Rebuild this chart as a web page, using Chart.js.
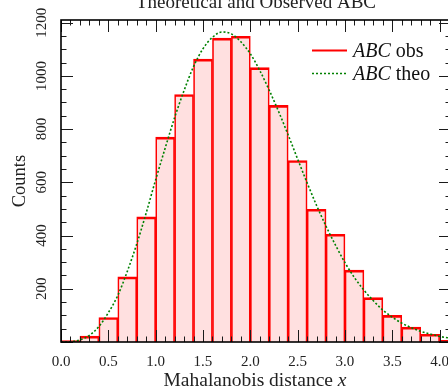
<!DOCTYPE html>
<html>
<head>
<meta charset="utf-8">
<script src="https://cdn.jsdelivr.net/npm/chart.js@4"></script>
<style>
  html, body { margin: 0; padding: 0; background: #fff; overflow: hidden; }
  #wrap { width: 470px; height: 389px; }
</style>
</head>
<body>
<div id="wrap"><canvas id="abc" width="470" height="389"></canvas></div>
<script>
// histogram bins (edges) and observed counts per bin
var binEdges = [0.0, 0.2, 0.4, 0.6, 0.8, 1.0, 1.2, 1.4, 1.6, 1.8, 2.0,
                2.2, 2.4, 2.6, 2.8, 3.0, 3.2, 3.4, 3.6, 3.8, 4.0, 4.2];
var obsCounts = [5, 22, 92, 245, 470, 770, 930, 1063, 1142, 1149, 1031,
                 889, 682, 499, 405, 270, 167, 100, 56, 29, 6];

// theoretical curve, expected counts per bin
var theoX = [0.0, 0.1, 0.2, 0.3, 0.4, 0.5, 0.6, 0.7, 0.8, 0.9, 1.0,
             1.1, 1.2, 1.3, 1.4, 1.5, 1.6, 1.7, 1.8, 1.9, 2.0,
             2.1, 2.2, 2.3, 2.4, 2.5, 2.6, 2.7, 2.8, 2.9, 3.0,
             3.1, 3.2, 3.3, 3.4, 3.5, 3.6, 3.7, 3.8, 3.9, 4.0, 4.1, 4.2];
var theoCounts = [0, 1, 8, 25, 58, 110, 175, 265, 368, 485, 610,
                  728, 843, 945, 1035, 1102, 1145, 1165, 1158, 1128, 1083,
                  1020, 946, 865, 778, 687, 598, 513, 435, 364, 298,
                  242, 195, 155, 120, 93, 71, 54, 40, 30, 21, 15, 10];

// axis ticks
var xTicks = [0.0, 0.5, 1.0, 1.5, 2.0, 2.5, 3.0, 3.5, 4.0];
var xTickLabels = ['0.0', '0.5', '1.0', '1.5', '2.0', '2.5', '3.0', '3.5', '4.0'];
var yTicks = [200, 400, 600, 800, 1000, 1200];
var yTickLabels = ['200', '400', '600', '800', '1000', '1200'];

var serif = '"Liberation Serif", "Times New Roman", serif';

var obsPoints = obsCounts.map(function(c, i) {
    return { x: (binEdges[i] + binEdges[i + 1]) / 2, y: c };
});
var theoPoints = theoCounts.map(function(c, i) {
    return { x: theoX[i], y: c };
});

// draws a string made of upright and italic pieces
function richText(ctx, parts, x, y, size, align) {
    var total = 0;
    parts.forEach(function(p) {
        ctx.font = (p.it ? 'italic ' : '') + size + 'px ' + serif;
        p.w = ctx.measureText(p.t).width;
        total += p.w;
    });
    var cx = align === 'center' ? x - total / 2 : x;
    ctx.textAlign = 'left';
    parts.forEach(function(p) {
        ctx.font = (p.it ? 'italic ' : '') + size + 'px ' + serif;
        ctx.fillText(p.t, cx, y);
        cx += p.w;
    });
}

// frame, inward ticks, labels, title and legend
var axesDecor = {
    id: 'axesDecor',
    afterDatasetsDraw: function(chart) {
        var ctx = chart.ctx, a = chart.chartArea;
        var xs = chart.scales.x, ys = chart.scales.y;
        var major = 12, minor = 5.5;
        ctx.save();

        ctx.strokeStyle = '#1a1a1a';
        ctx.lineWidth = 1;
        ctx.beginPath();
        for (var k = 0; k <= 41; k++) {
            var v = k / 10;
            if (v > xs.max) break;
            var px = Math.round(xs.getPixelForValue(v)) + 0.5;
            var len = (k % 5 === 0) ? major : minor;
            ctx.moveTo(px, a.bottom); ctx.lineTo(px, a.bottom - len);
            ctx.moveTo(px, a.top); ctx.lineTo(px, a.top + len);
        }
        for (var m = 0; m <= 1200; m += 50) {
            var py = Math.round(ys.getPixelForValue(m)) + 0.5;
            var ln = (m % 200 === 0) ? major : minor;
            ctx.moveTo(a.left, py); ctx.lineTo(a.left + ln, py);
            ctx.moveTo(a.right, py); ctx.lineTo(a.right - ln, py);
        }
        ctx.stroke();

        ctx.strokeStyle = '#000';
        ctx.lineWidth = 1.6;
        ctx.strokeRect(a.left, a.top, a.right - a.left, a.bottom - a.top);

        ctx.fillStyle = '#222';
        ctx.font = '15px ' + serif;
        ctx.textAlign = 'center';
        ctx.textBaseline = 'alphabetic';
        xTicks.forEach(function(v, i) {
            ctx.fillText(xTickLabels[i], xs.getPixelForValue(v), 365.5);
        });
        yTicks.forEach(function(v, i) {
            ctx.save();
            ctx.translate(45.5, ys.getPixelForValue(v));
            ctx.rotate(-Math.PI / 2);
            ctx.fillText(yTickLabels[i], 0, 0);
            ctx.restore();
        });

        var midX = (a.left + a.right) / 2;
        richText(ctx, [{ t: 'Mahalanobis distance ' }, { t: 'x', it: true }], midX - 1, 386, 19.5, 'center');

        ctx.save();
        ctx.translate(25, (a.top + a.bottom) / 2);
        ctx.rotate(-Math.PI / 2);
        richText(ctx, [{ t: 'Counts' }], 0, 0, 18.5, 'center');
        ctx.restore();

        richText(ctx, [{ t: 'Theoretical and Observed ABC' }], midX, 8, 19, 'center');

        // legend
        ctx.lineWidth = 2;
        ctx.strokeStyle = '#ff0000';
        ctx.beginPath(); ctx.moveTo(312, 50.5); ctx.lineTo(347, 50.5); ctx.stroke();
        ctx.strokeStyle = '#008000';
        ctx.lineWidth = 1.6;
        ctx.setLineDash([2, 2]);
        ctx.beginPath(); ctx.moveTo(312, 73.5); ctx.lineTo(347, 73.5); ctx.stroke();
        ctx.setLineDash([]);
        ctx.fillStyle = '#111';
        richText(ctx, [{ t: 'ABC', it: true }, { t: ' obs' }], 353, 56.5, 20, 'left');
        richText(ctx, [{ t: 'ABC', it: true }, { t: ' theo' }], 353, 79.5, 20, 'left');

        ctx.restore();
    }
};

var ctx = document.getElementById('abc').getContext('2d');
var chart = new Chart(ctx, {
    type: 'bar',
    data: {
        datasets: [{
            type: 'line',
            label: 'ABC theo',
            data: theoPoints,
            borderColor: '#008000',
            borderWidth: 1.6,
            borderDash: [2, 2],
            pointRadius: 0,
            fill: false,
            cubicInterpolationMode: 'monotone',
            order: 0
        }, {
            type: 'bar',
            label: 'ABC obs',
            data: obsPoints,
            backgroundColor: 'rgba(255, 0, 0, 0.12)',
            borderColor: '#ff0000',
            borderWidth: { top: 2, left: 1, right: 1, bottom: 0 },
            barPercentage: 1.0,
            categoryPercentage: 1.0,
            order: 1
        }]
    },
    options: {
        responsive: false,
        animation: false,
        devicePixelRatio: 1,
        layout: { padding: { left: 61, top: 20, right: 19, bottom: 47 } },
        plugins: {
            legend: { display: false },
            tooltip: { enabled: false },
            title: { display: false }
        },
        scales: {
            x: { type: 'linear', display: false, offset: false, min: 0, max: 4.12 },
            y: { type: 'linear', display: false, min: 0, max: 1210 }
        }
    },
    plugins: [axesDecor]
});
</script>
</body>
</html>
